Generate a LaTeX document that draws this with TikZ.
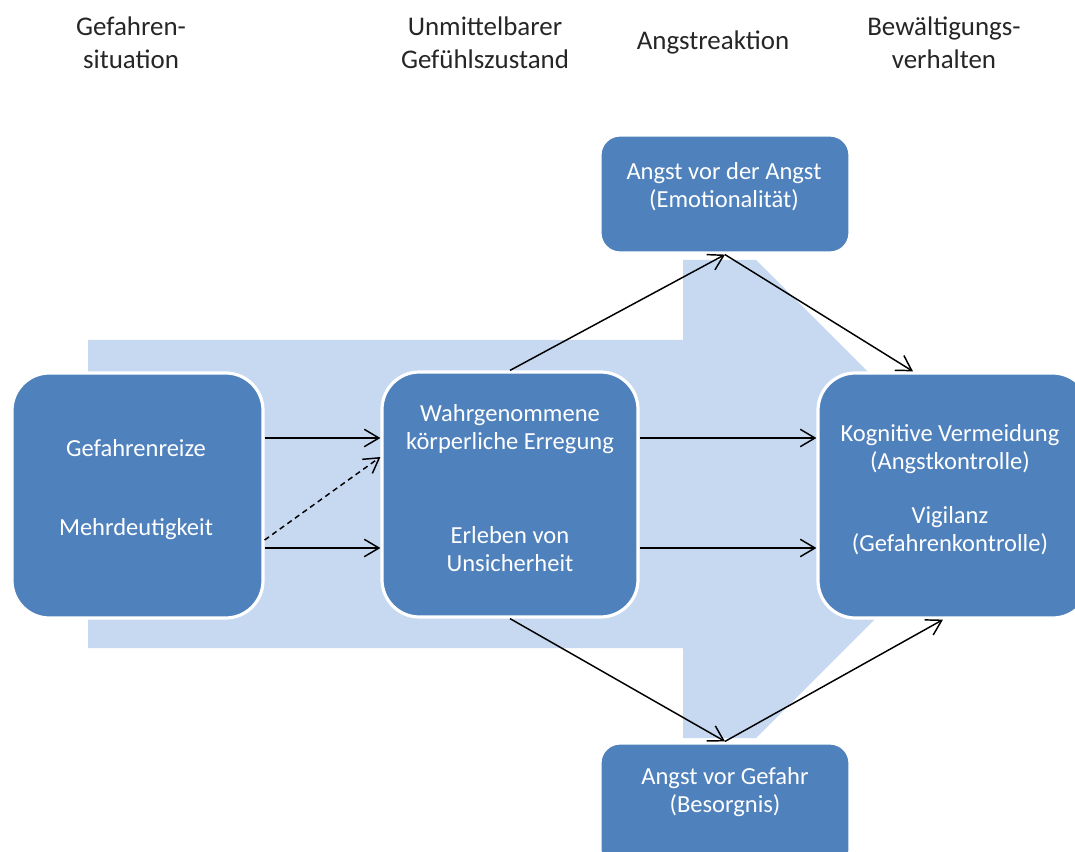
\documentclass[tikz,border=0pt]{standalone}
\usepackage{fontspec}
\setmainfont{Carlito}
\usetikzlibrary{arrows.meta,calc}
\definecolor{boxblue}{HTML}{4F81BD}
\definecolor{lightblue}{HTML}{C6D9F1}
\definecolor{headgray}{HTML}{262626}
\begin{document}
\begin{tikzpicture}[x=0.75pt,y=-0.75pt,
  box/.style={fill=boxblue,draw=white,line width=2.4pt,rounded corners=28pt,inner sep=0pt},
  smallbox/.style={box,rounded corners=15pt},
  btext/.style={text=white,align=center,inner sep=0pt,font=\fontsize{18.4}{21}\selectfont},
  htext/.style={text=headgray,align=center,inner sep=0pt,font=\fontsize{20.2}{24.75}\selectfont},
  arr/.style={-{Straight Barb[length=11pt,width=13pt]},line width=1.1pt,black},
  dasharr/.style={arr,dash pattern=on 4pt off 3pt}
]
\useasboundingbox (0,0) rectangle (1075,852);
\clip (0,0) rectangle (1075,852);
\fill[white] (0,0) rectangle (1075,852);

% headers
\node[htext] (h1) at (131,43) {Gefahren-\\situation};
\node[htext] (h2) at (485,43) {Unmittelbarer\\Gefühlszustand};
\node[htext] (h3) at (713,42) {Angstreaktion};
\node[htext] (h4) at (944,43) {Bewältigungs-\\verhalten};

% big background arrow
\fill[lightblue] (88,340) -- (683,340) -- (683,260) -- (756,260) -- (995,499)
  -- (756,738) -- (683,738) -- (683,648) -- (88,648) -- cycle;

% boxes
\node[box,minimum width=188.25pt,minimum height=183.75pt] (L) at (137.5,495.5) {};
\node[box,minimum width=192pt,minimum height=183.75pt] (M) at (510,494.5) {};
\node[box,minimum width=204pt,minimum height=183.75pt] (R) at (954,495.5) {};
\node[smallbox,minimum width=187.5pt,minimum height=88.5pt] (T) at (725,194) {};
\node[smallbox,minimum width=187.5pt,minimum height=95.25pt] (B) at (725,806.5) {};

% texts
\node[btext] (l1) at (136,448) {Gefahrenreize};
\node[btext] (l2) at (136,529) {Mehrdeutigkeit};
\node[btext] (m1) at (510,429) {Wahrgenommene\\körperliche Erregung};
\node[btext] (m2) at (510,549) {Erleben von\\Unsicherheit};
\node[btext] (r1) at (950,449) {Kognitive Vermeidung\\(Angstkontrolle)};
\node[btext] (r2) at (950,531) {Vigilanz\\(Gefahrenkontrolle)};
\node[btext] (t1) at (724,187) {Angst vor der Angst\\(Emotionalität)};
\node[btext] (b1) at (725,792) {Angst vor Gefahr\\(Besorgnis)};

% helper coordinates
\coordinate (ya) at (0,438);
\coordinate (yb) at (0,548);
\coordinate (yc) at (0,540);
\coordinate (yd) at (0,457);
\coordinate (xa) at (913,0);
\coordinate (xb) at (943,0);

% connectors
\draw[arr] (L.east |- ya) -- (M.west |- ya);
\draw[arr] (L.east |- yb) -- (M.west |- yb);
\draw[dasharr] (L.east |- yc) -- (M.west |- yd);
\draw[arr] (M.east |- ya) -- (R.west |- ya);
\draw[arr] (M.east |- yb) -- (R.west |- yb);
\draw[arr] (M.north) -- (T.south);
\draw[arr] (T.south) -- (R.north -| xa);
\draw[arr] (M.south) -- (B.north);
\draw[arr] (B.north) -- (R.south -| xb);
\end{tikzpicture}
\end{document}
